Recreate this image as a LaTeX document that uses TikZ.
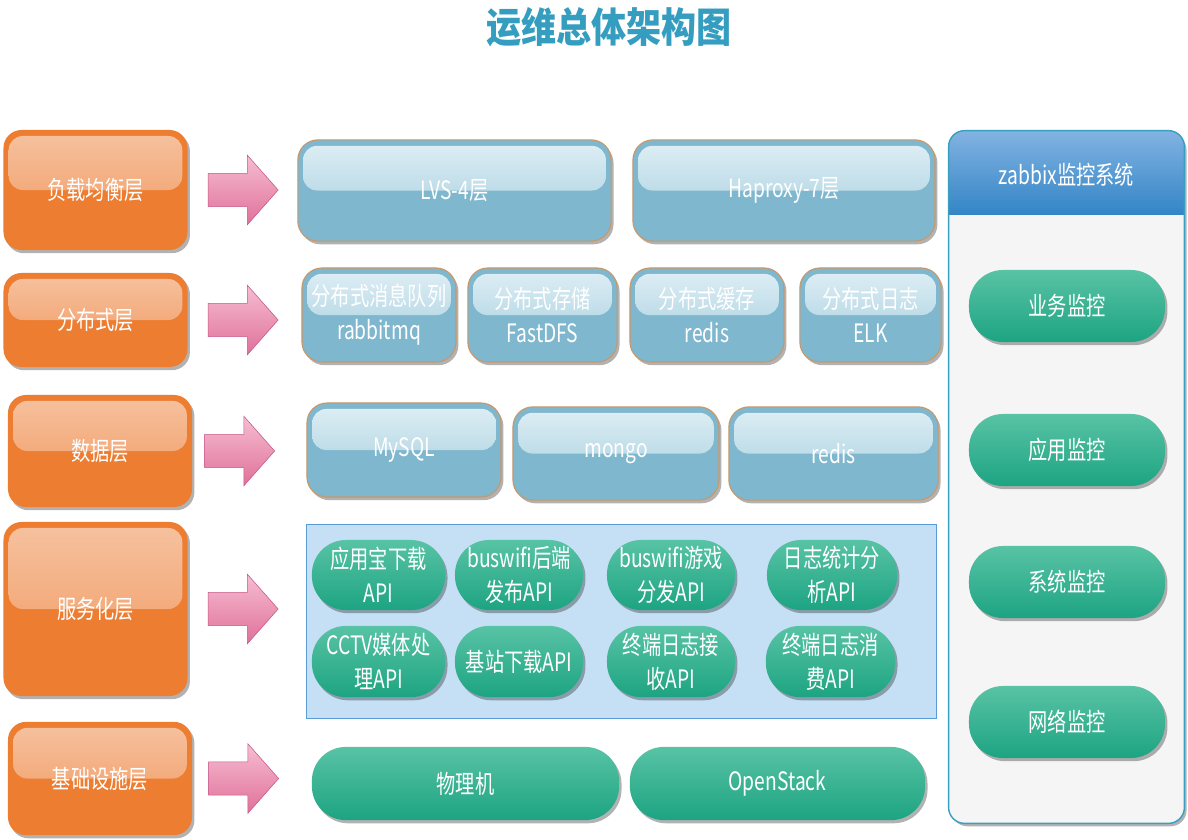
\documentclass[tikz,border=0pt]{standalone}
\usepackage{fontspec}
\setmainfont{Noto Sans CJK SC}[FakeStretch=0.76]
\newfontfamily\titlefont{Noto Sans CJK SC}[FakeStretch=0.86]
\usepackage{xcolor}
\usetikzlibrary{shapes.arrows, positioning, shadows}

\definecolor{layerorange}{HTML}{ED7D31}
\definecolor{layerglosstop}{HTML}{F6C2A0}
\definecolor{layerglossbot}{HTML}{F09458}
\definecolor{tierblue}{HTML}{7FB7CE}
\definecolor{tierglosstop}{HTML}{E0EFF5}
\definecolor{tierglossbot}{HTML}{9CCADB}
\definecolor{tieredge}{HTML}{C9986A}
\definecolor{greenlight}{HTML}{58C3A5}
\definecolor{greendark}{HTML}{1DA482}
\definecolor{svcfill}{HTML}{C5E0F4}
\definecolor{svcedge}{HTML}{5B9BD5}
\definecolor{paneledge}{HTML}{3A9FBF}
\definecolor{headlight}{HTML}{82B3E2}
\definecolor{headdark}{HTML}{3385C6}
\definecolor{arrowpink}{HTML}{E0709A}
\definecolor{arrowlight}{HTML}{F6BDD1}
\definecolor{arrowedge}{HTML}{C8578A}
\definecolor{titleblue}{HTML}{359EC0}

\newcommand{\glossfill}[2]{\fill[rounded corners=0.35cm, top color=#1, bottom color=#2] ([shift={(0.13cm,-0.15cm)}]path picture bounding box.north west) rectangle ([shift={(-0.13cm,0cm)}]path picture bounding box.east);}

\tikzstyle{soft} = [drop shadow={shadow xshift=0.06cm, shadow yshift=-0.08cm, fill=black, opacity=0.3}]
\tikzstyle{label} = [text=white, align=center, font=\fontsize{18}{24}\selectfont]
\tikzstyle{layer} = [rectangle, rounded corners=0.45cm, minimum width=4.6cm, fill=layerorange, soft, label, path picture={\glossfill{layerglosstop}{layerglossbot}}]
\tikzstyle{tier} = [rectangle, rounded corners=0.5cm, draw=tieredge, line width=0.8pt, fill=tierblue, soft, label, path picture={\glossfill{tierglosstop}{tierglossbot}}]
\tikzstyle{service} = [rectangle, rounded corners=0.85cm, top color=greenlight, bottom color=greendark, soft, label]
\tikzstyle{push} = [single arrow, minimum height=1.75cm, single arrow head extend=0.45cm, single arrow tip angle=97, inner xsep=0pt, inner ysep=0.41cm, draw=arrowedge, top color=arrowlight, bottom color=arrowpink]
\tikzstyle{panel} = [rectangle, rounded corners=0.4cm, fill=white!96!black, soft]

\begin{document}
\begin{tikzpicture}[x=0.025cm, y=-0.025cm, node distance=0.5cm]
\useasboundingbox[fill=white] (0,0) rectangle (1188,840);

% Title
\node (title) [font=\titlefont\bfseries\fontsize{29}{34}\selectfont, text=titleblue] at (609,27) {运维总体架构图};

% Layers - left column
\node (lb) [layer, minimum height=3cm] at (95.5,190) {负载均衡层};
\node (dist) [layer, minimum height=2.35cm] at (95.5,320) {分布式层};
\node (data) [layer, minimum height=2.8cm] at (100,451) {数据层};
\node (svc) [layer, minimum height=4.35cm] at (95.5,609) {服务化层};
\node (infra) [layer, minimum height=2.83cm] at (100,778.5) {基础设施层};

% Arrows
\node (push-lb) [push, right=of lb] {};
\node (push-dist) [push, right=of dist] {};
\node (push-data) [push, right=of data, xshift=-0.2cm] {};
\node (push-svc) [push, right=of svc] {};
\node (push-infra) [push, right=of infra, xshift=-0.1cm] {};

% Load balancing
\node (lvs) [tier, minimum width=7.83cm, minimum height=2.53cm] at (454.5,190.5) {LVS-4层};
\node (haproxy) [tier, minimum width=7.55cm, minimum height=2.53cm] at (784,190.5) {Haproxy-7层};

% Distributed
\node (mq) [tier, minimum width=3.85cm, minimum height=2.35cm] at (379,315) {分布式消息队列\\rabbitmq};
\node (store) [tier, minimum width=3.73cm, minimum height=2.35cm] at (542.5,315) {分布式存储\\FastDFS};
\node (cache) [tier, minimum width=3.85cm, minimum height=2.35cm] at (707,315) {分布式缓存\\redis};
\node (log) [tier, minimum width=3.53cm, minimum height=2.35cm] at (870.5,315) {分布式日志\\ELK};

% Data
\node (mysql) [tier, minimum width=4.85cm, minimum height=2.35cm] at (404,450) {MySQL};
\node (mongo) [tier, minimum width=5.15cm, minimum height=2.33cm] at (616,453.5) {mongo};
\node (redis) [tier, minimum width=5.23cm, minimum height=2.33cm] at (833.5,453.5) {redis};

% Services
\node (services) [rectangle, draw=svcedge, fill=svcfill, minimum width=15.75cm, minimum height=4.85cm] at (621,621) {};
\node (api-app) [service, minimum width=3.33cm, minimum height=1.75cm] at (378.5,575) {应用宝下载\\API};
\node (api-pub) [service, minimum width=3.2cm, minimum height=1.75cm] at (519,575) {buswifi后端\\发布API};
\node (api-game) [service, minimum width=3.2cm, minimum height=1.75cm] at (671,575) {buswifi游戏\\分发API};
\node (api-stat) [service, minimum width=3.25cm, minimum height=1.75cm] at (832,575) {日志统计分\\析API};
\node (api-cctv) [service, minimum width=3.33cm, minimum height=1.78cm] at (378.5,661.5) {CCTV媒体处\\理API};
\node (api-bs) [service, minimum width=3.2cm, minimum height=1.78cm] at (519,661.5) {基站下载API};
\node (api-recv) [service, minimum width=3.2cm, minimum height=1.78cm] at (671,661.5) {终端日志接\\收API};
\node (api-cons) [service, minimum width=3.23cm, minimum height=1.78cm] at (830.5,661.5) {终端日志消\\费API};

% Infrastructure
\node (host) [service, minimum width=7.68cm, minimum height=1.83cm] at (465.5,783.5) {物理机};
\node (openstack) [service, minimum width=7.38cm, minimum height=1.83cm] at (777.5,783.5) {OpenStack};

% Monitoring panel with its blue header
\node (monitor) [panel, minimum width=5.88cm, minimum height=17.3cm] at (1066.5,477) {};
\begin{scope}
\clip [rounded corners=0.4cm] (monitor.north west) rectangle (monitor.south east);
\shade [top color=headlight, bottom color=headdark] (monitor.north west) rectangle ([yshift=-2.1cm]monitor.north east);
\end{scope}
\draw [paneledge, line width=1pt, rounded corners=0.4cm] (monitor.north west) rectangle (monitor.south east);
\node (monitor-title) [label] at (1066.5,175) {zabbix监控系统};
\node (mon-biz) [service, minimum width=4.9cm, minimum height=1.8cm] at (1067,306) {业务监控};
\node (mon-app) [service, minimum width=4.9cm, minimum height=1.8cm] at (1067,450) {应用监控};
\node (mon-sys) [service, minimum width=4.9cm, minimum height=1.8cm] at (1067,582) {系统监控};
\node (mon-net) [service, minimum width=4.9cm, minimum height=1.8cm] at (1067,722) {网络监控};

\end{tikzpicture}
\end{document}
